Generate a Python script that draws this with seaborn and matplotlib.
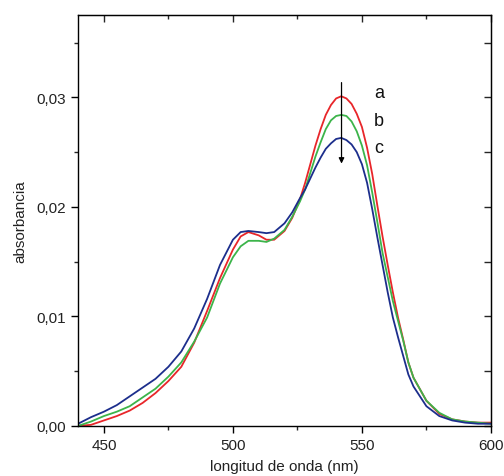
import pandas as pd
import matplotlib
matplotlib.use('Agg')
import matplotlib.pyplot as plt
import seaborn as sns
from matplotlib.ticker import MultipleLocator, FuncFormatter

# wavelength grid (nm) and absorbance
wavelength = [440, 445, 450, 455, 460, 465, 470, 475, 480, 485, 490, 495, 500,
              503, 506, 510, 513, 516, 520, 523, 526, 528, 530, 532, 534, 536,
              538, 540, 542, 544, 546, 548, 550, 552, 554, 556, 558, 560, 562,
              564, 566, 568, 570, 575, 580, 585, 590, 595, 600]

abs_a = [0.0000, 0.0001, 0.0005, 0.0009, 0.0014, 0.0021, 0.0030, 0.0041, 0.0054,
         0.0076, 0.0105, 0.0135, 0.0161, 0.0173, 0.0177, 0.0174, 0.0170, 0.0170,
         0.0178, 0.0190, 0.0207, 0.0222, 0.0239, 0.0256, 0.0271, 0.0284, 0.0293,
         0.0299, 0.0301, 0.0299, 0.0294, 0.0285, 0.0273, 0.0254, 0.0230, 0.0201,
         0.0173, 0.0147, 0.0122, 0.0099, 0.0079, 0.0058, 0.0044, 0.0023, 0.0011,
         0.0006, 0.0004, 0.0003, 0.0003]

abs_b = [0.0000, 0.0004, 0.0009, 0.0013, 0.0018, 0.0026, 0.0034, 0.0045, 0.0058,
         0.0077, 0.0099, 0.0130, 0.0154, 0.0164, 0.0169, 0.0169, 0.0168, 0.0171,
         0.0179, 0.0191, 0.0205, 0.0216, 0.0231, 0.0246, 0.0259, 0.0271, 0.0279,
         0.0283, 0.0284, 0.0283, 0.0278, 0.0269, 0.0256, 0.0238, 0.0213, 0.0186,
         0.0158, 0.0136, 0.0114, 0.0096, 0.0078, 0.0058, 0.0044, 0.0023, 0.0012,
         0.0006, 0.0004, 0.0003, 0.0002]

abs_c = [0.0002, 0.0008, 0.0013, 0.0019, 0.0027, 0.0035, 0.0043, 0.0054, 0.0068,
         0.0089, 0.0116, 0.0147, 0.0170, 0.0177, 0.0178, 0.0177, 0.0176, 0.0177,
         0.0185, 0.0195, 0.0208, 0.0216, 0.0226, 0.0236, 0.0245, 0.0253, 0.0258,
         0.0262, 0.0263, 0.0261, 0.0257, 0.0250, 0.0239, 0.0222, 0.0198, 0.0172,
         0.0147, 0.0122, 0.0099, 0.0081, 0.0064, 0.0047, 0.0036, 0.0018, 0.0009,
         0.0005, 0.0003, 0.0002, 0.0002]

series_names = ['a', 'b', 'c']
colors = ['#e8262a', '#3cb44a', '#1c2e8c']

df = pd.concat([
    pd.DataFrame({'wl': wavelength, 'abs': vals, 'muestra': name})
    for name, vals in zip(series_names, [abs_a, abs_b, abs_c])
])

sns.set_style('ticks')
plt.rcParams['font.family'] = ['Liberation Sans', 'DejaVu Sans']

fig = plt.figure(figsize=(5.04, 4.77), dpi=100)
ax = fig.add_axes([0.155, 0.105, 0.819, 0.861])

sns.lineplot(data=df, x='wl', y='abs', hue='muestra', palette=colors,
             linewidth=1.3, legend=False, ax=ax, sort=False)

ax.set_xlim(440, 600)
ax.set_ylim(0, 0.0375)
ax.xaxis.set_major_locator(MultipleLocator(50))
ax.xaxis.set_minor_locator(MultipleLocator(25))
ax.yaxis.set_major_locator(MultipleLocator(0.01))
ax.yaxis.set_minor_locator(MultipleLocator(0.005))
ax.yaxis.set_major_formatter(FuncFormatter(lambda v, p: f'{v:.2f}'.replace('.', ',')))

for s in ax.spines.values():
    s.set_visible(True)
    s.set_color('black')
    s.set_linewidth(1.0)

ax.tick_params(which='major', direction='out', length=5, width=1, labelsize=11,
               colors='black', labelcolor='#222222')
ax.tick_params(which='minor', direction='out', length=3, width=1)

# inward ticks on top and right
top = ax.secondary_xaxis('top')
top.xaxis.set_major_locator(MultipleLocator(50))
top.xaxis.set_minor_locator(MultipleLocator(25))
top.tick_params(which='major', direction='in', length=5, width=1, labeltop=False)
top.tick_params(which='minor', direction='in', length=3, width=1)
right = ax.secondary_yaxis('right')
right.yaxis.set_major_locator(MultipleLocator(0.01))
right.yaxis.set_minor_locator(MultipleLocator(0.005))
right.tick_params(which='major', direction='in', length=5, width=1, labelright=False)
right.tick_params(which='minor', direction='in', length=5, width=1)

ax.set_xlabel('longitud de onda (nm)', fontsize=11, color='#222222', labelpad=5)
ax.set_ylabel('absorbancia', fontsize=11, color='#222222', labelpad=7)

# arrow marking decrease a -> c
ax.annotate('', xy=(542.1, 0.0237), xytext=(542.1, 0.0316),
            arrowprops=dict(arrowstyle='-|>', color='black', lw=0.9,
                            mutation_scale=8))
for name, yv in zip(series_names, [0.0304, 0.0279, 0.0254]):
    ax.text(556.6, yv, name, fontsize=13, color='#111111', va='center', ha='center')

fig.savefig('out.png', dpi=100)
